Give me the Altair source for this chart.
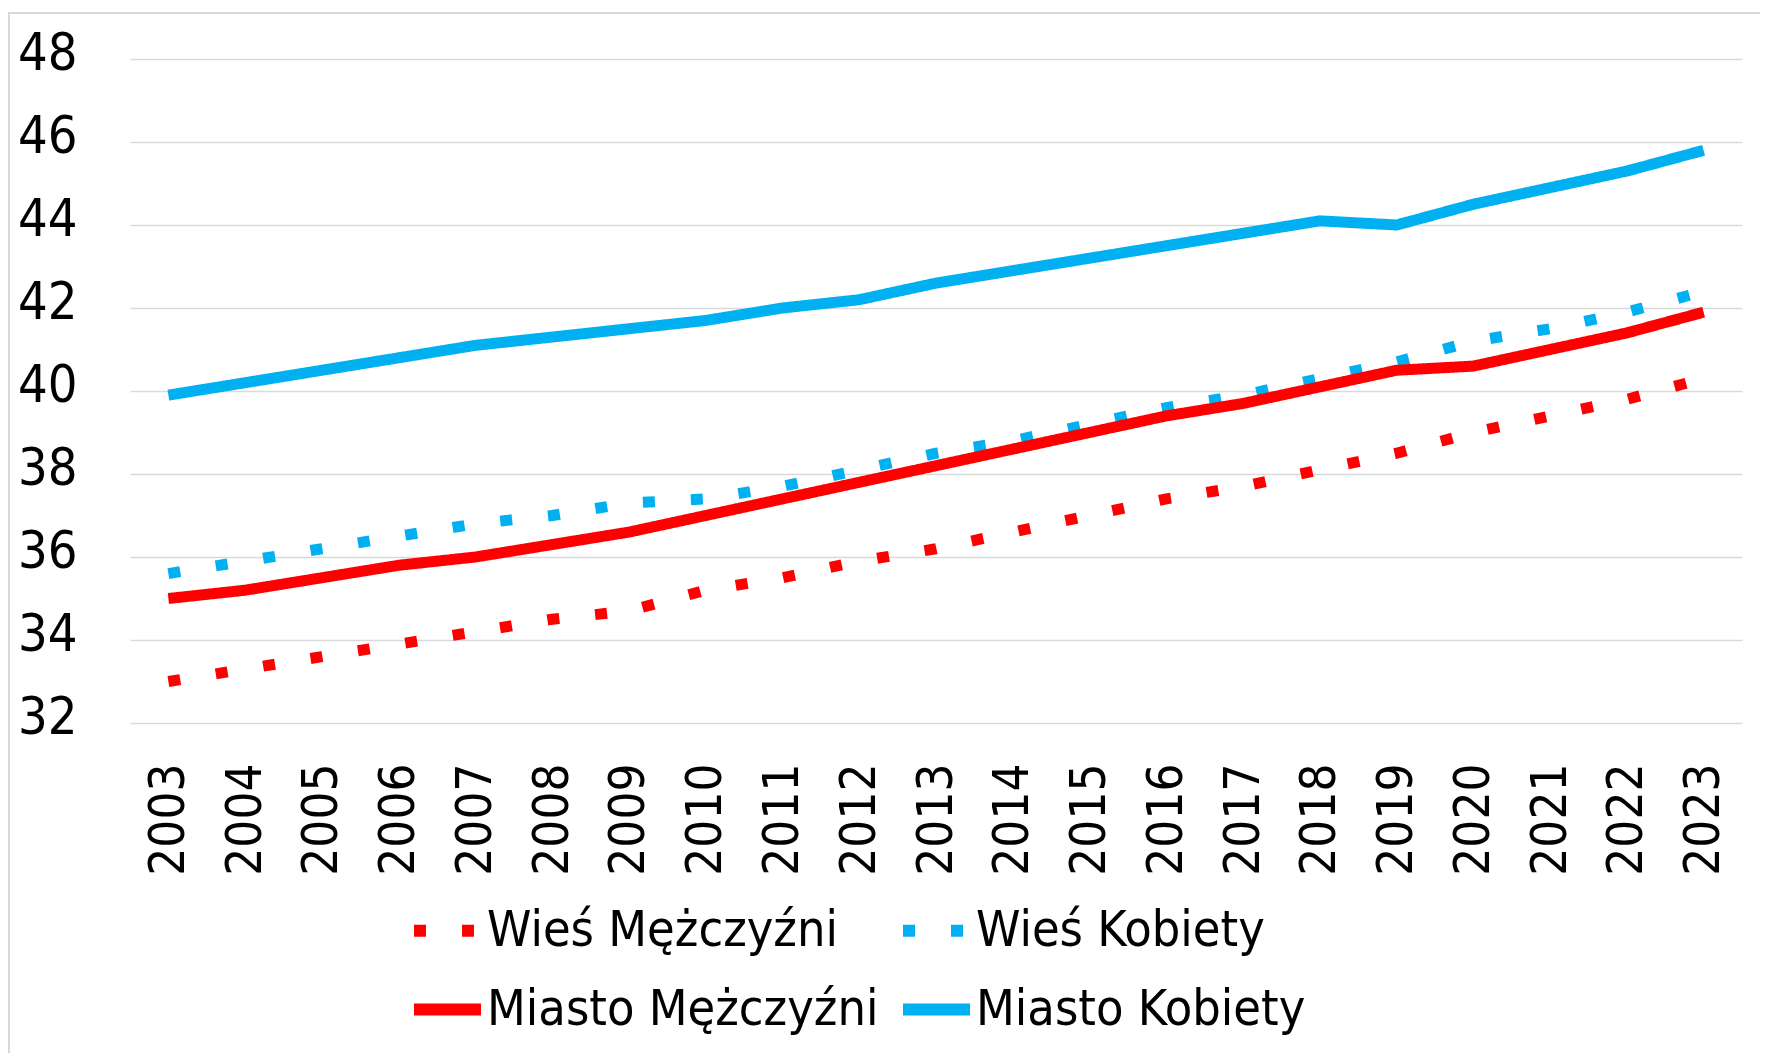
import altair as alt
import pandas as pd

years = ["2003", "2004", "2005", "2006", "2007", "2008", "2009", "2010", "2011", "2012",
         "2013", "2014", "2015", "2016", "2017", "2018", "2019", "2020", "2021", "2022", "2023"]

wies_m = [33.0, 33.3, 33.6, 33.9, 34.2, 34.5, 34.7, 35.2, 35.5, 35.9,
          36.2, 36.6, 37.0, 37.4, 37.7, 38.1, 38.5, 39.0, 39.4, 39.8, 40.3]
wies_k = [35.6, 35.9, 36.2, 36.5, 36.8, 37.0, 37.3, 37.4, 37.7, 38.1,
          38.5, 38.8, 39.2, 39.6, 39.9, 40.3, 40.7, 41.2, 41.5, 41.9, 42.4]
miasto_m = [35.0, 35.2, 35.5, 35.8, 36.0, 36.3, 36.6, 37.0, 37.4, 37.8,
            38.2, 38.6, 39.0, 39.4, 39.7, 40.1, 40.5, 40.6, 41.0, 41.4, 41.9]
miasto_k = [39.9, 40.2, 40.5, 40.8, 41.1, 41.3, 41.5, 41.7, 42.0, 42.2,
            42.6, 42.9, 43.2, 43.5, 43.8, 44.1, 44.0, 44.5, 44.9, 45.3, 45.8]

series_names = ["Wieś Mężczyźni", "Wieś Kobiety", "Miasto Mężczyźni", "Miasto Kobiety"]
series_values = [wies_m, wies_k, miasto_m, miasto_k]
series_colors = ["#FF0000", "#00B0F0", "#FF0000", "#00B0F0"]
series_dash = [[12, 36], [12, 36], [1, 0], [1, 0]]
y_ticks = [32, 34, 36, 38, 40, 42, 44, 46, 48]

rows = []
for name, vals in zip(series_names, series_values):
    for yr, v in zip(years, vals):
        rows.append({"year": yr, "value": v, "series": name})
df = pd.DataFrame(rows)

FONT = "DejaVu Sans Condensed, DejaVu Sans"

def make_legend():
    return alt.Legend(title=None, orient="none", legendX=278, legendY=832,
                      direction="horizontal", columns=2, symbolType="stroke",
                      symbolSize=4489, symbolStrokeWidth=12, labelFontSize=50,
                      labelFont=FONT, labelColor="#000000", labelOffset=0,
                      rowPadding=14, columnPadding=0, padding=0, labelLimit=0)

x_enc = alt.X("year:O", sort=years,
              scale=alt.Scale(type="point", padding=0.5),
              axis=alt.Axis(title=None, labelAngle=270, labelFontSize=49, labelFont=FONT,
                            labelColor="#000000", labelPadding=40, domain=False,
                            ticks=False, grid=False))
y_enc = alt.Y("value:Q",
              scale=alt.Scale(domain=[32, 48], nice=False, zero=False),
              axis=alt.Axis(title=None, values=y_ticks, labelFontSize=52, labelFont=FONT,
                            labelColor="#000000", labelPadding=53, labelOffset=-6,
                            domain=False, ticks=False, grid=True,
                            gridColor="#D9D9D9", gridWidth=1.5))
color_enc = alt.Color("series:N",
                      scale=alt.Scale(domain=series_names, range=series_colors),
                      legend=make_legend())
dash_enc = alt.StrokeDash("series:N",
                          scale=alt.Scale(domain=series_names, range=series_dash),
                          legend=make_legend())

frame = alt.Chart(df).mark_rect(filled=False, stroke="#D9D9D9", strokeWidth=2).encode(
    x=alt.value(-121), x2=alt.value(1700), y=alt.value(-46), y2=alt.value(1100)
).transform_filter(alt.datum.year == "2003").transform_filter(alt.datum.series == "Wieś Mężczyźni")

layers = [frame]
for name in series_names:
    layers.append(
        alt.Chart(df).transform_filter(alt.datum.series == name).mark_line(
            strokeWidth=11, strokeCap="butt", strokeJoin="round"
        ).encode(x=x_enc, y=y_enc, color=color_enc, strokeDash=dash_enc)
    )

chart = alt.layer(*layers).properties(
    width=1612, height=664,
    autosize=alt.AutoSizeParams(type="none"),
    padding={"left": 122, "top": 51, "right": 18, "bottom": 330},
    background="#FFFFFF",
).configure_view(stroke=None)

chart.save("out.html", embed_options={"renderer": "svg", "actions": False})
